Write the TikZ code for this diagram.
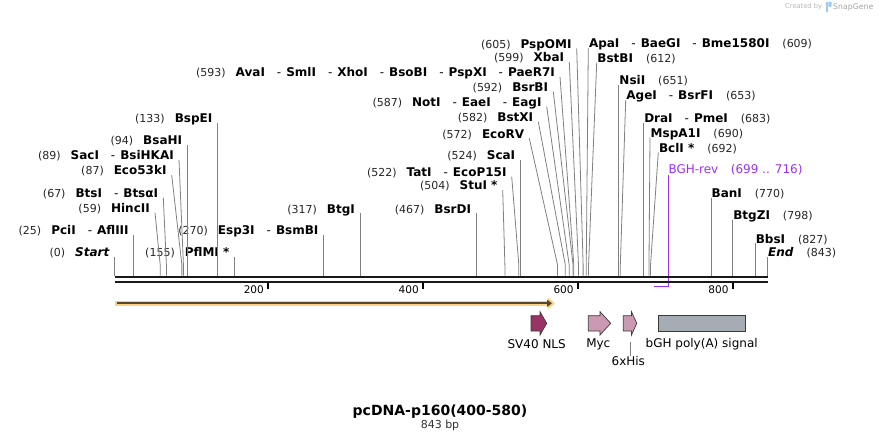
\documentclass[tikz,border=0pt]{standalone}
\usepackage{fontspec}
\setmainfont{DejaVu Sans}
\usepackage{tikz}
\usetikzlibrary{arrows.meta,positioning,calc}
\definecolor{cutGrey}{HTML}{808080}
\definecolor{primerPurple}{HTML}{A030F0}
\definecolor{insertOrange}{HTML}{FBD183}
\definecolor{insertBrown}{HTML}{574731}
\definecolor{nlsMagenta}{HTML}{993366}
\definecolor{mycPink}{HTML}{CC99B2}
\definecolor{polyaGrey}{HTML}{A6ACB3}
\definecolor{featEdge}{HTML}{3A3A3A}
\definecolor{logoBlue}{HTML}{9CCBEF}
\newcommand{\enzpos}[1]{{\fontsize{11}{13}\selectfont\color{black!85}(#1)}}
\newcommand{\enzname}[1]{{\fontsize{12}{14}\selectfont\bfseries #1}}
\newcommand{\enzdash}{{\mdseries\hspace{12pt}-\hspace{5pt}}}
\newcommand{\cutL}[2]{\enzpos{#1}\hspace{10pt}\enzname{#2}}
\newcommand{\cutR}[2]{\enzname{#1}\hspace{13pt}\enzpos{#2}}

\begin{document}
\begin{tikzpicture}[x=1pt, y=-1pt,
  enzL/.style={anchor=south east, inner xsep=5pt, inner ysep=0pt, text height=9pt, text depth=0pt},
  enzR/.style={anchor=south west, inner xsep=0.5pt, inner ysep=0pt, text height=9pt, text depth=0pt},
  cutline/.style={cutGrey, line width=0.8pt},
  featlbl/.style={font=\fontsize{12}{14}\selectfont, inner sep=0pt},
  ticklbl/.style={anchor=base east, inner sep=0pt, font=\fontsize{10.5}{12}\selectfont},
  tickmark/.style={line width=2pt},
  featshape/.style={draw=featEdge, line width=0.7pt}]
\useasboundingbox (0,0) rectangle (882,442);
\fill[white] (0,0) rectangle (882,442);

% cut sites on the backbone, in bp
\begin{scope}[shift={(114.5,0)}, x=0.7746pt]
  \coordinate (s0) at (0,275.5);
  \coordinate (s25) at (25,275.5);
  \coordinate (s59) at (59,275.5);
  \coordinate (s67) at (67,275.5);
  \coordinate (s87) at (87,275.5);
  \coordinate (s89) at (89,275.5);
  \coordinate (s94) at (94,275.5);
  \coordinate (s133) at (133,275.5);
  \coordinate (s155) at (155,275.5);
  \coordinate (s270) at (270,275.5);
  \coordinate (s317) at (317,275.5);
  \coordinate (s467) at (467,275.5);
  \coordinate (s504) at (504,275.5);
  \coordinate (s522) at (522,275.5);
  \coordinate (s524) at (524,275.5);
  \coordinate (s572) at (572,275.5);
  \coordinate (s582) at (582,275.5);
  \coordinate (s587) at (587,275.5);
  \coordinate (s592) at (592,275.5);
  \coordinate (s593) at (593,275.5);
  \coordinate (s599) at (599,275.5);
  \coordinate (s605) at (605,275.5);
  \coordinate (s609) at (609,275.5);
  \coordinate (s612) at (612,275.5);
  \coordinate (s651) at (651,275.5);
  \coordinate (s653) at (653,275.5);
  \coordinate (s683) at (683,275.5);
  \coordinate (s690) at (690,275.5);
  \coordinate (s692) at (692,275.5);
  \coordinate (s770) at (770,275.5);
  \coordinate (s798) at (798,275.5);
  \coordinate (s827) at (827,275.5);
  \coordinate (s843) at (843,275.5);
\end{scope}

% enzymes, left of their lines
\node[enzL] (start) at (s0 |- 0,256.7) {\cutL{0}{\itshape Start}};
\node[enzL] (pcii) at (s25 |- 0,235) {\cutL{25}{PciI\enzdash AflIII}};
\node[enzL] (hincii) at (155,212.7) {\cutL{59}{HincII}};
\node[enzL] (btsi) at (163.3,197.7) {\cutL{67}{BtsI\enzdash BtsαI}};
\node[enzL] (eco53ki) at (171.7,175) {\cutL{87}{Eco53kI}};
\node[enzL] (saci) at (179,160) {\cutL{89}{SacI\enzdash BsiHKAI}};
\node[enzL] (bsahi) at (s94 |- 0,145) {\cutL{94}{BsaHI}};
\node[enzL] (bspei) at (s133 |- 0,123) {\cutL{133}{BspEI}};
\node[enzL] (pflmi) at (s155 |- 0,256.7) {\cutL{155}{PflMI *}};
\node[enzL] (esp3i) at (s270 |- 0,235) {\cutL{270}{Esp3I\enzdash BsmBI}};
\node[enzL] (btgi) at (s317 |- 0,213.3) {\cutL{317}{BtgI}};
\node[enzL] (bsrdi) at (s467 |- 0,213.3) {\cutL{467}{BsrDI}};
\node[enzL] (stui) at (502.7,190) {\cutL{504}{StuI *}};
\node[enzL] (tati) at (511.7,176.7) {\cutL{522}{TatI\enzdash EcoP15I}};
\node[enzL] (scai) at (s524 |- 0,160) {\cutL{524}{ScaI}};
\node[enzL] (ecorv) at (529.3,138.3) {\cutL{572}{EcoRV}};
\node[enzL] (bstxi) at (538.3,121.7) {\cutL{582}{BstXI}};
\node[enzL] (noti) at (546.7,106.7) {\cutL{587}{NotI\enzdash EaeI\enzdash EagI}};
\node[enzL] (bsrbi) at (553.3,91.7) {\cutL{592}{BsrBI}};
\node[enzL] (avai) at (560,76.7) {\cutL{593}{AvaI\enzdash SmlI\enzdash XhoI\enzdash BsoBI\enzdash PspXI\enzdash PaeR7I}};
\node[enzL] (xbai) at (569.3,62) {\cutL{599}{XbaI}};
\node[enzL] (pspomi) at (576.7,48.3) {\cutL{605}{PspOMI}};

% enzymes, right of their lines
\node[enzR] (apai) at (588.3,48) {\cutR{ApaI\enzdash BaeGI\enzdash Bme1580I}{609}};
\node[enzR] (bstbi) at (596.7,62.5) {\cutR{BstBI}{612}};
\node[enzR] (nsii) at (s651 |- 0,85) {\cutR{NsiI}{651}};
\node[enzR] (agei) at (625.7,100) {\cutR{AgeI\enzdash BsrFI}{653}};
\node[enzR] (drai) at (s683 |- 0,123) {\cutR{DraI\enzdash PmeI}{683}};
\node[enzR] (mspa1i) at (650,137.3) {\cutR{MspA1I}{690}};
\node[enzR] (bcli) at (658.3,152.3) {\cutR{BclI *}{692}};
\node[enzR] (bani) at (s770 |- 0,197.5) {\cutR{BanI}{770}};
\node[enzR] (btgzi) at (s798 |- 0,220) {\cutR{BtgZI}{798}};
\node[enzR] (bbsi) at (s827 |- 0,243.3) {\cutR{BbsI}{827}};
\node[enzR] (seqend) at (s843 |- 0,256.7) {\cutR{\itshape End}{843}};

% lines to the cut sites
\draw[cutline] (start.south east) -- (s0);
\draw[cutline] (pcii.south east) -- (s25);
\draw[cutline] (hincii.south east) -- (s59 |- 0,265) -- (s59);
\draw[cutline] (btsi.south east) -- (s67 |- 0,265) -- (s67);
\draw[cutline] (eco53ki.south east) -- (s87 |- 0,265) -- (s87);
\draw[cutline] (saci.south east) -- (s89 |- 0,265) -- (s89);
\draw[cutline] (bsahi.south east) -- (s94);
\draw[cutline] (bspei.south east) -- (s133);
\draw[cutline] (pflmi.south east) -- (s155);
\draw[cutline] (esp3i.south east) -- (s270);
\draw[cutline] (btgi.south east) -- (s317);
\draw[cutline] (bsrdi.south east) -- (s467);
\draw[cutline] (stui.south east) -- (s504 |- 0,265) -- (s504);
\draw[cutline] (tati.south east) -- (s522 |- 0,265) -- (s522);
\draw[cutline] (scai.south east) -- (s524);
\draw[cutline] (ecorv.south east) -- (s572 |- 0,265) -- (s572);
\draw[cutline] (bstxi.south east) -- (s582 |- 0,265) -- (s582);
\draw[cutline] (noti.south east) -- (s587 |- 0,265) -- (s587);
\draw[cutline] (bsrbi.south east) -- (s592 |- 0,265) -- (s592);
\draw[cutline] (avai.south east) -- (s593 |- 0,265) -- (s593);
\draw[cutline] (xbai.south east) -- (s599 |- 0,265) -- (s599);
\draw[cutline] (pspomi.south east) -- (s605 |- 0,265) -- (s605);
\draw[cutline] (apai.south west) -- (s609 |- 0,265) -- (s609);
\draw[cutline] (bstbi.south west) -- (s612 |- 0,265) -- (s612);
\draw[cutline] (nsii.south west) -- (s651);
\draw[cutline] (agei.south west) -- (s653 |- 0,265) -- (s653);
\draw[cutline] (drai.south west) -- (s683);
\draw[cutline] (mspa1i.south west) -- (s690 |- 0,265) -- (s690);
\draw[cutline] (bcli.south west) -- (s692 |- 0,265) -- (s692);
\draw[cutline] (bani.south west) -- (s770);
\draw[cutline] (btgzi.south west) -- (s798);
\draw[cutline] (bbsi.south west) -- (s827);
\draw[cutline] (seqend.south west) -- (s843);

% primer BGH-rev
\coordinate (p716) at (668.3,286.3);
\coordinate (p699) at (654,286.3);
\node[anchor=south west, inner xsep=0pt, inner ysep=0pt, text height=9pt, text depth=1.5pt,
  text=primerPurple, font=\fontsize{12}{14}\selectfont] (bghrev) at (p716 |- 0,175)
  {BGH-rev\hspace{12.5pt}(699 .. 716)};
\draw[primerPurple, line width=1.3pt] (bghrev.south west) -- (p716) -- (p699);

% backbone
\draw[line width=2.4pt, black!90] (114.5,276.8) -- (767.7,276.8);
\draw[line width=2pt, black!90] (114.5,281.6) -- (767.7,281.6);
\draw[tickmark] (267.9,282.5) -- (267.9,288.5);
\draw[tickmark] (422.8,282.5) -- (422.8,288.5);
\draw[tickmark] (577.7,282.5) -- (577.7,288.5);
\draw[tickmark] (732.6,282.5) -- (732.6,288.5);
\node[ticklbl] (t200) at (264,293) {200};
\node[ticklbl] (t400) at (418.9,293) {400};
\node[ticklbl] (t600) at (573.8,293) {600};
\node[ticklbl] (t800) at (728.7,293) {800};

% insert arrow
\draw[insertOrange, line width=5.5pt, -{Triangle[length=7pt, width=11pt]}] (115,303.3) -- (555,303.3);
\draw[insertBrown, line width=2pt, -{Triangle[length=5pt, width=7pt]}] (117,303.3) -- (552,303.3);

% features
\filldraw[featshape, fill=nlsMagenta] (531,315.7) -- (540,315.7) -- (540,311.7) -- (546.7,323.3)
  -- (540,335) -- (540,331) -- (531,331) -- cycle;
\filldraw[featshape, fill=mycPink] (588.3,315.7) -- (600,315.7) -- (600,311.7) -- (610.7,323.3)
  -- (600,335) -- (600,331) -- (588.3,331) -- cycle;
\filldraw[featshape, fill=mycPink] (623.3,315.7) -- (631.5,315.7) -- (631.5,311.7) -- (636.7,323.3)
  -- (631.5,335) -- (631.5,331) -- (623.3,331) -- cycle;
\filldraw[featshape, fill=polyaGrey] (658.3,315) rectangle (745.7,331.7);
\node[featlbl] (sv40) at (536.7,344.3) {SV40 NLS};
\node[featlbl] (myc) at (598.3,344.3) {Myc};
\node[featlbl] (bgh) at (701.7,344.3) {bGH poly(A) signal};
\node[featlbl] (his) at (628.3,361) {6xHis};
\coordinate (histick) at (630,342);
\draw[cutGrey, line width=0.8pt] (histick) -- (histick |- his.north);

% title
\node[font=\fontsize{14}{16}\selectfont\bfseries] (title) at (440,411.7) {pcDNA-p160(400-580)};
\node[font=\fontsize{11}{13}\selectfont, text=black!80] (size) at (440,425.5) {843 bp};

% watermark
\node[anchor=west, inner sep=0pt, text=black!28, font=\fontsize{6.7}{8}\selectfont] (madeby) at (785,7) {Created by};
\fill[logoBlue] (826,1.5) rectangle (828.3,12);
\fill[logoBlue, rounded corners=1pt] (828.3,1.5) rectangle (831.7,7);
\node[anchor=west, inner sep=0pt, text=black!35, font=\fontsize{7.8}{9}\selectfont] (snapgene) at (833,7) {SnapGene};
\end{tikzpicture}
\end{document}
